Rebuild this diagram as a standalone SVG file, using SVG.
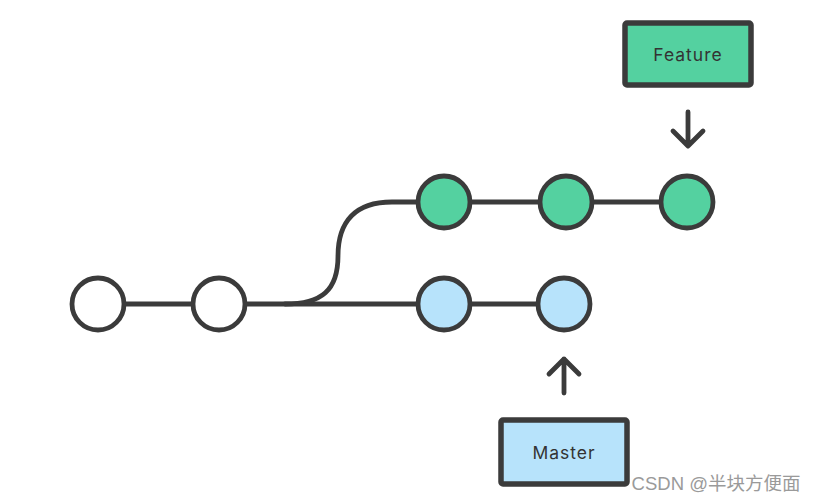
<svg xmlns="http://www.w3.org/2000/svg" width="818" height="503" viewBox="0 0 818 503">
<defs>
<style>
.ln{fill:none;stroke:#3b3b3b;stroke-width:4.8;stroke-linecap:round;stroke-linejoin:round}
.c{stroke:#3b3b3b;stroke-width:4.8}
.bx{stroke:#3b3b3b;stroke-width:5.5}
.w{fill:#ffffff}
.g{fill:#54d1a0}
.b{fill:#b7e3fb}
.lbl{font-family:"Inter","Liberation Sans",sans-serif;font-size:17.5px;fill:#333;letter-spacing:1px;text-anchor:middle}
</style>
</defs>
<rect width="818" height="503" fill="#fff"/>
<g id="connectors">
<path class="ln" d="M98 304 H444"/>
<path class="ln" d="M285 304 C322 304 338 290 338 256 C338 222 355 202 392 202 H687"/>
<path class="ln" d="M444 304 H564"/>
<path class="ln" d="M688 112 V146 M673 131 L688 146 L703 131"/>
<path class="ln" d="M564 393 V359 M549 374 L564 359 L579 374"/>
</g>
<g id="c1"><circle class="c w" cx="98" cy="304" r="26"/></g>
<g id="c2"><circle class="c w" cx="219" cy="304" r="26"/></g>
<g id="f1"><circle class="c g" cx="444" cy="202" r="26"/></g>
<g id="f2"><circle class="c g" cx="566" cy="202" r="26"/></g>
<g id="f3"><circle class="c g" cx="687" cy="202" r="26"/></g>
<g id="m1"><circle class="c b" cx="444" cy="304" r="26"/></g>
<g id="m2"><circle class="c b" cx="564" cy="304" r="26"/></g>
<g id="feature"><rect class="bx g" x="625" y="23" width="126" height="62" rx="2"/><text class="lbl" x="688" y="61">Feature</text></g>
<g id="master"><rect class="bx b" x="501" y="420" width="126" height="64" rx="2"/><text class="lbl" x="564" y="459">Master</text></g>
<text x="716" y="490" text-anchor="middle" style="font-family:'Liberation Sans','Noto Sans CJK SC',sans-serif;font-size:18.5px;fill:#9a9a9a">CSDN @半块方便面</text>
</svg>
